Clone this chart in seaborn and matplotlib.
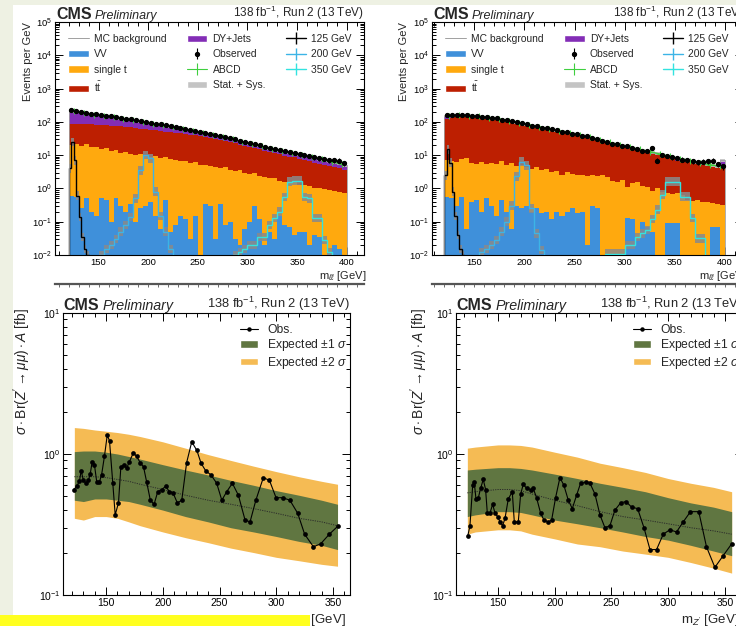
import numpy as np
import pandas as pd
import matplotlib
matplotlib.use("Agg")
import matplotlib.pyplot as plt
from matplotlib.patches import Patch, Rectangle
from matplotlib.lines import Line2D
from matplotlib.ticker import LogLocator, MultipleLocator, NullFormatter
import seaborn as sns

sns.set_style("ticks")
plt.rcParams["font.family"] = ["Liberation Sans", "DejaVu Sans"]
plt.rcParams["mathtext.fontset"] = "custom"
plt.rcParams["mathtext.rm"] = "Liberation Sans"
plt.rcParams["mathtext.it"] = "Liberation Sans:italic"
plt.rcParams["mathtext.bf"] = "Liberation Sans:bold"
plt.rcParams["mathtext.sf"] = "Liberation Sans"

# ---------------------------------------------------------------- binning
MASS_LO, MASS_HI, BIN_W = 120, 400, 5
ABCD_W = 10

# ---------------------------------------------------------------- left dilepton mass spectrum (events per GeV)
LEFT_VV = [0.6, 0.55, 0.25, 0.5, 0.2, 0.15, 0.5, 0.45, 0.1, 0.5,
           0.3, 0.2, 0.35, 0.1, 0.25, 0.3, 0.4, 0.15, 0.06, 0.45,
           0.05, 0.08, 0.15, 0.12, 0.03, 0.15, 0.0, 0.35, 0.3, 0.03,
           0.35, 0.08, 0.1, 0.03, 0.02, 0.06, 0.1, 0.3, 0.12, 0.02,
           0.05, 0.03, 0.15, 0.08, 0.07, 0.04, 0.05, 0.05, 0.02, 0.04,
           0.035, 0.0, 0.012, 0.02, 0.015, 0.0]
LEFT_ST = [19.4, 21.5, 18.8, 20.5, 16.8, 17.9, 14.5, 15.6, 12.9, 13.5,
           11.7, 12.3, 10.7, 9.9, 10.3, 9.2, 8.6, 9.4, 7.9, 8.1,
           7.5, 6.9, 6.4, 6.7, 5.8, 5.9, 5.2, 4.7, 4.5, 4.4,
           3.7, 4.2, 3.6, 3.4, 3.5, 2.9, 2.7, 2.7, 2.3, 2.2,
           1.95, 2.07, 1.55, 1.52, 1.43, 1.51, 1.25, 1.2, 1.18, 1.01,
           0.97, 0.95, 0.89, 0.83, 0.77, 0.72]
LEFT_TT = [68, 65, 67, 64, 67, 64, 65, 63, 64, 61,
           61, 57.5, 57, 55, 52.5, 50.5, 49, 46.5, 45, 42.5,
           41.5, 40, 38.5, 36.2, 35.2, 33, 31.8, 30, 28.2, 25.6,
           24, 21.7, 20.3, 19.1, 17, 16, 15.2, 13.5, 12.6, 11.3,
           10.5, 9.4, 8.8, 7.9, 7.5, 6.95, 6.5, 5.75, 5.3, 4.95,
           4.5, 4.15, 3.8, 3.45, 3.22, 2.88]
LEFT_DY = [122, 113, 104, 95, 86, 80, 75, 69, 64, 59,
           55, 51, 47, 45, 41, 37, 34, 30, 28, 25,
           23, 21, 18, 16, 15, 13, 12, 10, 9, 9,
           8, 7, 7, 6, 5.5, 5, 4, 4, 4, 4,
           3.5, 3.5, 3.5, 3.5, 3, 2.5, 2.5, 2.5, 2.3, 2.2,
           2, 1.9, 1.8, 1.7, 1.5, 1.4]
LEFT_OBS = [220, 205, 195, 185, 178, 168, 160, 150, 146, 136,
            130, 126, 118, 112, 108, 100, 95, 88, 84, 78,
            74, 70, 66, 62, 58, 54, 51, 47, 44, 41,
            37, 35, 32, 30, 27, 25, 23, 21, 19.5, 18,
            16.5, 15.5, 14.5, 13, 12.5, 11.5, 10.5, 9.8, 9.5, 8.5,
            8.0, 7.8, 7.0, 7.2, 6.8, 5.8]
LEFT_ABCD = [205, 185, 166, 152, 138, 124, 112, 100, 89, 78,
             70, 61, 54, 47, 41, 35, 30, 25.5, 21.5, 18.5,
             15.8, 13.7, 11.7, 10, 8.6, 7.4, 6.4, 5.4]
LEFT_SIG125 = (120, 2.5, [4, 25, 7, 0.6, 0.14, 0.035, 0.015, 0.01])
LEFT_SIG200 = (150, 5, [0.01, 0.015, 0.02, 0.03, 0.05, 0.08, 0.14, 0.5, 3.5, 10,
                        8, 0.8, 0.15, 0.05, 0.015])
LEFT_SIG350 = (285, 5, [0.01, 0.012, 0.015, 0.02, 0.02, 0.035, 0.035, 0.08, 0.13, 0.2,
                        0.55, 1.6, 1.7, 1.7, 0.55, 0.5, 0.13, 0.13, 0.028, 0.012])

# ---------------------------------------------------------------- right dilepton mass spectrum (events per GeV)
RIGHT_VV = [0.55, 0.5, 0.3, 0.55, 0.06, 0.4, 0.45, 0.2, 0.5, 0.3,
            0.15, 0.45, 0.2, 0.06, 0.3, 0.25, 0.3, 0.2, 0.25, 0.18,
            0.2, 0.12, 0.2, 0.15, 0.2, 0.25, 0.18, 0.2, 0.02, 0.3,
            0.25, 0.01, 0.0, 0.0, 0.01, 0.0, 0.13, 0.12, 0.03, 0.1,
            0.07, 0.05, 0.0, 0.01, 0.09, 0.09, 0.09, 0.0, 0.0, 0.01,
            0.0, 0.0, 0.0, 0.07, 0.07, 0.0]
RIGHT_ST = [6.45, 6.0, 6.0, 7.25, 7.94, 5.4, 5.15, 6.0, 4.9, 5.7,
            5.35, 6.05, 4.8, 5.94, 4.3, 4.75, 4.0, 3.7, 4.15, 3.42,
            3.6, 3.08, 3.2, 2.45, 2.9, 2.55, 2.32, 2.4, 2.38, 2.2,
            2.05, 2.49, 2.2, 1.7, 1.59, 1.8, 0.97, 1.38, 1.57, 1.1,
            1.03, 0.8, 1.0, 0.79, 0.66, 0.61, 0.66, 0.65, 0.45, 0.41,
            0.44, 0.4, 0.38, 0.29, 0.27, 0.32]
RIGHT_TT = [118, 126.5, 131.7, 132.2, 132, 132.2, 130.4, 125.8, 121.6, 116,
            111.5, 105, 100, 92.5, 87.4, 80.5, 74.7, 69.5, 64.4, 60.6,
            57, 53.8, 49.8, 46.8, 43.5, 40, 37.5, 34.6, 31.9, 28.9,
            26.2, 23.6, 21.5, 20.1, 18.3, 16.7, 15.95, 14.1, 12.75, 12,
            11.15, 10.45, 9.35, 8.8, 7.75, 7.0, 6.15, 5.95, 6.05, 5.63,
            5.16, 4.85, 4.52, 4.24, 3.96, 3.88]
RIGHT_DY = [25, 22, 20, 18, 16, 14, 12, 11, 10, 9,
            8, 7.5, 7, 6.5, 6, 5.5, 5, 4.6, 4.2, 3.8,
            3.2, 3, 2.8, 2.6, 2.4, 2.2, 2, 1.8, 1.7, 1.6,
            1.5, 1.4, 1.3, 1.2, 1.1, 1.0, 0.95, 0.9, 0.85, 0.8,
            0.75, 0.7, 0.65, 0.6, 0.9, 1.0, 1.1, 0.9, 0.5, 0.45,
            0.4, 0.35, 0.3, 0.3, 0.3, 2.8]
RIGHT_OBS = [160, 165, 160, 162, 158, 150, 150, 140, 140, 128,
             127, 117, 114, 103, 100, 90, 86, 77, 74, 67,
             66, 59, 57, 51, 50, 44, 43, 38, 37, 32,
             31, 27, 25.5, 22, 21.5, 19, 18.5, 16, 15.5, 13.5,
             13.3, 16, 6.8, 10, 9.6, 8.5, 8.2, 7.3, 7.2, 6.6,
             6.2, 6.4, 6.6, 6.8, 5.3, 4.6]
RIGHT_ABCD = [152, 158, 154, 146, 135, 123, 109, 95, 82, 71,
              62, 54, 47, 40.5, 34.5, 29, 24, 20.5, 17.5, 14.8,
              12.7, 10.8, 9.2, 7.9, 6.9, 5.9, 5.1, 4.7]
RIGHT_SIG125 = (120, 2.5, [2.5, 15, 6, 0.8, 0.15, 0.04, 0.015, 0.01])
RIGHT_SIG200 = (155, 5, [0.012, 0.015, 0.02, 0.028, 0.05, 0.1, 0.3, 2.3, 6.3, 5,
                         0.25, 0.045, 0.014])
RIGHT_SIG350 = (280, 5, [0.011, 0.011, 0.011, 0.011, 0.02, 0.02, 0.035, 0.045, 0.056, 0.12,
                         0.23, 0.65, 1.6, 1.6, 1.6, 0.57, 0.57, 0.13, 0.032, 0.032])

# ---------------------------------------------------------------- limits, left
BL_OBS_M = [121.8, 124, 126.5, 128, 130, 132.4, 134.4, 136, 137.7, 139.7,
            141.8, 144, 146, 148.5, 151, 153, 155.9, 158, 160.9, 163,
            165.9, 168, 170.5, 174, 177, 180, 183, 185.8, 189, 192.3,
            195.5, 199, 202.6, 205.8, 209, 212.8, 216.7, 221, 225.5, 230,
            233.7, 237.8, 242.5, 247.5, 252, 256.3, 261.3, 266.6, 272.5, 276.9,
            282, 288.6, 294, 299.8, 305.7, 312, 318.9, 325, 332.7, 339,
            346.8, 354.7]
BL_OBS_V = [0.56, 0.59, 0.64, 0.76, 0.65, 0.62, 0.65, 0.72, 0.88, 0.84,
            0.63, 0.63, 0.71, 0.96, 1.36, 1.24, 0.62, 0.37, 0.45, 0.81,
            0.84, 0.79, 0.88, 1.02, 0.96, 0.87, 0.81, 0.63, 0.47, 0.44,
            0.54, 0.56, 0.59, 0.54, 0.53, 0.45, 0.47, 0.87, 1.22, 1.06,
            0.86, 0.76, 0.71, 0.62, 0.47, 0.54, 0.62, 0.51, 0.34, 0.33,
            0.47, 0.68, 0.65, 0.49, 0.49, 0.47, 0.38, 0.27, 0.22, 0.23,
            0.27, 0.31]
BL_EXP_M = [122, 130, 140, 150, 160, 170, 180, 200, 220, 240, 260, 280, 300, 320, 340, 354]
BL_MED = [0.69, 0.69, 0.69, 0.68, 0.66, 0.64, 0.61, 0.56, 0.51, 0.47, 0.44, 0.41, 0.38, 0.35, 0.33, 0.31]
BL_1UP = [1.04, 1.05, 1.05, 1.03, 1.0, 0.96, 0.92, 0.84, 0.77, 0.71, 0.65, 0.6, 0.55, 0.51, 0.47, 0.44]
BL_1DN = [0.47, 0.46, 0.48, 0.48, 0.47, 0.46, 0.44, 0.40, 0.36, 0.33, 0.30, 0.28, 0.26, 0.24, 0.225, 0.21]
BL_2UP = [1.54, 1.52, 1.48, 1.45, 1.42, 1.38, 1.33, 1.22, 1.1, 0.99, 0.9, 0.82, 0.75, 0.69, 0.64, 0.61]
BL_2DN = [0.35, 0.34, 0.36, 0.36, 0.35, 0.33, 0.31, 0.28, 0.255, 0.235, 0.215, 0.2, 0.185, 0.175, 0.165, 0.16]

# ---------------------------------------------------------------- limits, right
BR_OBS_M = [123.3, 125.3, 127.7, 129.1, 130.6, 132.7, 134.7, 137, 139.1, 140.6,
            142.9, 145.3, 147.4, 149.7, 151.8, 154.1, 156.2, 159.1, 162.6, 164.4,
            167.9, 170, 172.3, 175.3, 178.8, 181.1, 184, 187.6, 190.5, 194.3,
            197.3, 200.8, 204.6, 208.1, 212, 215.5, 219.3, 222.8, 227.2, 231.1,
            235.5, 239.9, 244.3, 248.7, 253.1, 258.1, 262.8, 267.8, 273.1, 278.7,
            284, 289.8, 295.7, 301.5, 307.4, 313.3, 319.7, 327, 333.8, 341.2,
            348.5, 355.9]
BR_OBS_V = [0.26, 0.31, 0.60, 0.63, 0.48, 0.49, 0.57, 0.66, 0.56, 0.38,
            0.38, 0.44, 0.38, 0.36, 0.33, 0.31, 0.35, 0.48, 0.54, 0.33,
            0.33, 0.52, 0.61, 0.57, 0.56, 0.57, 0.49, 0.38, 0.34, 0.33,
            0.34, 0.49, 0.68, 0.60, 0.47, 0.41, 0.51, 0.62, 0.63, 0.62,
            0.52, 0.37, 0.30, 0.31, 0.40, 0.45, 0.46, 0.42, 0.41, 0.30,
            0.21, 0.21, 0.27, 0.29, 0.28, 0.33, 0.39, 0.39, 0.22, 0.157,
            0.19, 0.23]
BR_EXP_M = [123, 130, 140, 150, 160, 170, 180, 200, 220, 240, 260, 280, 300, 320, 340, 356]
BR_MED = [0.53, 0.54, 0.55, 0.56, 0.56, 0.55, 0.52, 0.47, 0.43, 0.39, 0.36, 0.34, 0.32, 0.30, 0.285, 0.27]
BR_1UP = [0.77, 0.78, 0.79, 0.8, 0.8, 0.79, 0.77, 0.72, 0.67, 0.62, 0.58, 0.54, 0.49, 0.45, 0.42, 0.39]
BR_1DN = [0.36, 0.37, 0.38, 0.39, 0.39, 0.385, 0.37, 0.34, 0.32, 0.30, 0.28, 0.26, 0.245, 0.225, 0.205, 0.19]
BR_2UP = [1.10, 1.12, 1.14, 1.16, 1.16, 1.15, 1.12, 1.03, 0.95, 0.86, 0.8, 0.74, 0.67, 0.62, 0.58, 0.54]
BR_2DN = [0.27, 0.28, 0.285, 0.29, 0.29, 0.285, 0.27, 0.25, 0.23, 0.22, 0.205, 0.195, 0.185, 0.17, 0.155, 0.143]

# ---------------------------------------------------------------- styling
PROCESS_ORDER = ["DY+Jets", "tt", "single t", "VV"]
PROCESS_COLORS = {"VV": "#3f90da", "single t": "#ffa90e", "tt": "#bd1f01", "DY+Jets": "#832db6"}
SIGNAL_COLORS = {"125 GeV": "black", "200 GeV": "#3cb4e6", "350 GeV": "#33e3e0"}
ABCD_COLOR = "#3fcf3f"
BAND_1S, BAND_2S = "#607641", "#F5BB54"
LUMI = r"138 fb$^{-1}$, Run 2 (13 TeV)"

W, H = 736, 626
fig = plt.figure(figsize=(W / 100, H / 100), dpi=100)
fig.patch.set_facecolor("#eef1e3")
fig.add_artist(Rectangle((13 / W, 0), 1, (H - 5) / H, transform=fig.transFigure,
                         facecolor="white", edgecolor="none", zorder=-10))


def px_axes(left, top, right, bottom):
    return fig.add_axes([left / W, 1 - bottom / H, (right - left) / W, (bottom - top) / H])


def root_ticks(ax, major_x, minor_x, lab_size, length=5.5):
    ax.set_yscale("log")
    ax.xaxis.set_major_locator(MultipleLocator(major_x))
    ax.xaxis.set_minor_locator(MultipleLocator(minor_x))
    ax.yaxis.set_major_locator(LogLocator(base=10, numticks=20))
    ax.yaxis.set_minor_locator(LogLocator(base=10, subs=np.arange(2, 10), numticks=20))
    ax.yaxis.set_minor_formatter(NullFormatter())
    ax.tick_params(which="both", direction="in", top=True, right=True, width=0.7, colors="black",
                   labelsize=lab_size, pad=2)
    ax.tick_params(which="major", length=length)
    ax.tick_params(which="minor", length=length / 2)
    for s in ax.spines.values():
        s.set_linewidth(0.8)
        s.set_color("black")


def header(ax, cms_size, prel_size, lumi_size):
    t = ax.text(0.003, 1.0, "CMS", transform=ax.transAxes, fontsize=cms_size,
                fontweight="bold", va="bottom", ha="left")
    ax.annotate("Preliminary", xy=(1, 0), xycoords=t, xytext=(2, 0), textcoords="offset points",
                fontsize=prel_size, style="italic", va="bottom", ha="left")
    ax.text(1.0, 1.0, LUMI, transform=ax.transAxes, fontsize=lumi_size, va="bottom", ha="right")


def spectrum(ax, vv, st, tt, dy, obs, abcd, sigs, xlim):
    edges = np.arange(MASS_LO, MASS_HI + BIN_W, BIN_W)
    centers = edges[:-1] + BIN_W / 2
    comps = {"VV": vv, "single t": st, "tt": tt, "DY+Jets": dy}
    df = pd.DataFrame({
        "m": np.tile(centers, len(PROCESS_ORDER)),
        "w": np.concatenate([comps[p] for p in PROCESS_ORDER]),
        "process": np.repeat(PROCESS_ORDER, len(centers)),
    })
    sns.histplot(data=df, x="m", weights="w", hue="process", hue_order=PROCESS_ORDER,
                 multiple="stack", bins=[float(b) for b in edges], palette=PROCESS_COLORS,
                 alpha=1, linewidth=0, edgecolor="none", legend=False, ax=ax)
    total = np.sum([np.asarray(v, float) for v in comps.values()], axis=0)

    # signal templates with their uncertainty boxes
    handles = {}
    for name, (start, width, vals) in sigs.items():
        v = np.asarray(vals, float)
        e = start + width * np.arange(len(v) + 1)
        ax.stairs(v * 1.35, e, baseline=v / 1.35, fill=True, color="#8a8a8a", alpha=0.85,
                  lw=0, zorder=3)
        ax.stairs(v, e, baseline=1e-4, color=SIGNAL_COLORS[name], lw=1.0, zorder=4)
        handles[name] = Line2D([], [], color=SIGNAL_COLORS[name], lw=1.0, marker="|", ms=8, mew=1.0)

    # total uncertainty band and MC outline
    ax.stairs(total * 1.1, edges, baseline=total / 1.1, fill=True, color="#c4c4c4", alpha=0.9,
              lw=0, zorder=5)
    ax.stairs(total, edges, color="#a0a0a0", lw=0.6, zorder=5.5)

    # data-driven ABCD estimate
    a = np.asarray(abcd, float)
    ac = MASS_LO + ABCD_W / 2 + ABCD_W * np.arange(len(a))
    ax.plot(ac, a, color=ABCD_COLOR, lw=1.0, marker="+", ms=4, mew=0.8, zorder=6)

    # observed
    o = np.asarray(obs, float)
    err = np.sqrt(o * BIN_W) / BIN_W
    eb = ax.errorbar(centers, o, yerr=err, fmt="o", ms=2.8, color="black", elinewidth=0.8,
                     capsize=0, zorder=7)

    ax.set_xlim(*xlim)
    ax.set_ylim(1e-2, 1e5)
    root_ticks(ax, 50, 10, 6.8)
    ax.set_ylabel("Events per GeV", fontsize=8, loc="top")
    ax.set_xlabel(r"m$_{\ell\ell}$ [GeV]", fontsize=8, loc="right")
    header(ax, 11.5, 9, 8.5)

    leg_handles = [Line2D([], [], color="#a0a0a0", lw=0.7),
                   Patch(facecolor=PROCESS_COLORS["VV"]),
                   Patch(facecolor=PROCESS_COLORS["single t"]),
                   Patch(facecolor=PROCESS_COLORS["tt"]),
                   Patch(facecolor=PROCESS_COLORS["DY+Jets"]),
                   eb,
                   Line2D([], [], color=ABCD_COLOR, lw=0.8, marker="|", ms=8, mew=0.8),
                   Patch(facecolor="#c4c4c4"),
                   handles["125 GeV"], handles["200 GeV"], handles["350 GeV"]]
    leg_labels = ["MC background", "VV", "single t", r"t$\bar{\rm t}$", "DY+Jets", "Observed",
                  "ABCD", "Stat. + Sys.", "125 GeV", "200 GeV", "350 GeV"]
    ax.legend(leg_handles, leg_labels, ncol=3, loc="upper left", bbox_to_anchor=(0.042, 0.949),
              frameon=False, fontsize=7.4, handlelength=2.0, handleheight=0.75,
              handletextpad=0.5, columnspacing=2.0, labelspacing=0.52, borderpad=0,
              borderaxespad=0)


def limits(ax, om, ov, em, med, up1, dn1, up2, dn2, xlim):
    ax.fill_between(em, dn2, up2, color=BAND_2S, lw=0, zorder=1)
    ax.fill_between(em, dn1, up1, color=BAND_1S, lw=0, zorder=2)
    ax.plot(em, med, color="#2a2a2a", lw=0.7, ls=(0, (1.2, 1.2)), zorder=3)
    sns.lineplot(x=om, y=ov, sort=False, estimator=None, color="black", lw=0.8, marker="o",
                 markersize=3.4, markeredgewidth=0, ax=ax, zorder=4)
    ax.set_xlim(*xlim)
    ax.set_ylim(0.1, 10)
    root_ticks(ax, 50, 10, 7.5, length=6)
    ax.set_ylabel(r"$\sigma\cdot\mathrm{Br}(Z^{\prime}\rightarrow\mu\mu)\cdot A$ [fb]",
                  fontsize=10, loc="top")
    ax.set_xlabel(r"m$_{Z^{\prime}}$ [GeV]", fontsize=9.5, loc="right")
    header(ax, 11.5, 10.3, 9.3)
    hs = [Line2D([], [], color="black", lw=0.8, marker="o", ms=3.2, mew=0),
          Patch(facecolor=BAND_1S), Patch(facecolor=BAND_2S)]
    ax.legend(hs, ["Obs.", r"Expected $\pm$1 $\sigma$", r"Expected $\pm$2 $\sigma$"],
              loc="upper left", bbox_to_anchor=(0.617, 0.962), frameon=False, fontsize=8.7,
              handlelength=1.5, handleheight=0.6, handletextpad=0.75, labelspacing=0.12,
              borderpad=0, borderaxespad=0)


# top row: dilepton mass spectra
ax_tl = px_axes(55, 22, 363.5, 255)
spectrum(ax_tl, LEFT_VV, LEFT_ST, LEFT_TT, LEFT_DY, LEFT_OBS, LEFT_ABCD,
         {"125 GeV": LEFT_SIG125, "200 GeV": LEFT_SIG200, "350 GeV": LEFT_SIG350}, (106, 417))
ax_tl.yaxis.set_label_coords(-0.071, 1.0)
ax_tl.xaxis.set_label_coords(1.011, -0.062)

ax_tr = px_axes(432, 22, 743.2, 255)
spectrum(ax_tr, RIGHT_VV, RIGHT_ST, RIGHT_TT, RIGHT_DY, RIGHT_OBS, RIGHT_ABCD,
         {"125 GeV": RIGHT_SIG125, "200 GeV": RIGHT_SIG200, "350 GeV": RIGHT_SIG350}, (108, 418))
ax_tr.yaxis.set_label_coords(-0.074, 1.0)
ax_tr.xaxis.set_label_coords(1.011, -0.062)

# top edge of the ratio pads below the spectra
for left, right, xl in [(55, 363.5, (106, 417)), (432, 743.2, (108, 418))]:
    rp = px_axes(left, 284, right, 288)
    rp.set_xlim(*xl)
    rp.set_yticks([])
    rp.xaxis.set_major_locator(MultipleLocator(50))
    rp.xaxis.set_minor_locator(MultipleLocator(10))
    rp.tick_params(which="both", direction="in", top=True, bottom=False, labelbottom=False,
                   length=2.5, width=0.6, colors="#555555")
    for k, s in rp.spines.items():
        s.set_visible(k == "top")
        s.set_color("#555555")
        s.set_linewidth(1.6)

# bottom row: cross-section limits
ax_bl = px_axes(63, 313, 350, 595)
limits(ax_bl, BL_OBS_M, BL_OBS_V, BL_EXP_M, BL_MED, BL_1UP, BL_1DN, BL_2UP, BL_2DN, (112, 365))
ax_bl.yaxis.set_label_coords(-0.105, 1.018)
ax_bl.xaxis.set_label_coords(0.986, -0.062)

ax_br = px_axes(456, 313, 743, 595)
limits(ax_br, BR_OBS_M, BR_OBS_V, BR_EXP_M, BR_MED, BR_1UP, BR_1DN, BR_2UP, BR_2DN, (113, 366))
ax_br.yaxis.set_label_coords(-0.09, 1.018)
ax_br.xaxis.set_label_coords(0.986, -0.062)

# highlight strip along the bottom edge
fig.add_artist(Rectangle((0, 0), 310 / W, 11 / H, transform=fig.transFigure,
                         facecolor="#ffff1f", edgecolor="none", zorder=20))

fig.savefig("out.png", dpi=100, facecolor=fig.get_facecolor())
